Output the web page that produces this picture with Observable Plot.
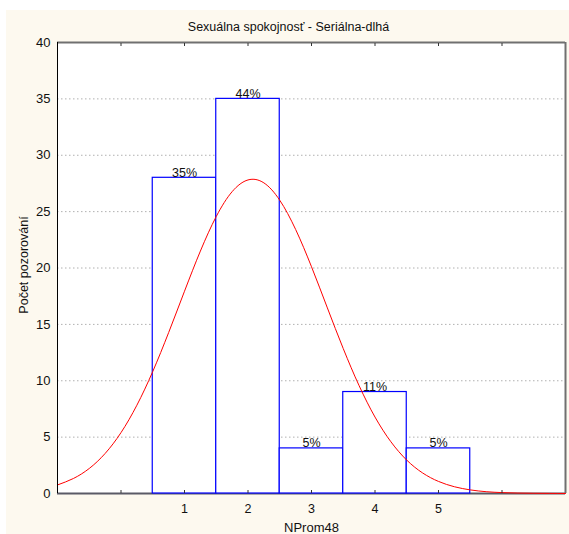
<!DOCTYPE html>
<html>
<head>
<meta charset="utf-8">
<script src="https://cdn.jsdelivr.net/npm/d3@7"></script>
<script src="https://cdn.jsdelivr.net/npm/@observablehq/plot@0.6"></script>
<style>
  html, body { margin: 0; padding: 0; background: #ffffff; }
  #wrap { position: relative; width: 569px; height: 534px; background: #ffffff; }
  #panel { position: absolute; left: 6px; top: 10px; width: 563px; height: 524px; background: #fdf9ef; }
  #chart { position: absolute; left: 0; top: 0; }
</style>
</head>
<body>
<div id="wrap">
  <div id="panel"></div>
  <div id="chart"></div>
</div>
<script>
// ---- data ----
const titleText = "Sexuálna spokojnosť - Seriálna-dlhá";
const xTitle = "NProm48";
const yTitle = "Počet pozorování";

const categories = [1, 2, 3, 4, 5];
const counts = [28, 35, 4, 9, 4];
const pctLabels = ["35%", "44%", "5%", "11%", "5%"];

// fitted normal curve
const curveX = [-1, -0.75, -0.5, -0.25, 0, 0.25, 0.5, 0.75, 1, 1.25, 1.5, 1.75, 2, 2.25, 2.5, 2.75, 3, 3.25, 3.5, 3.75, 4, 4.25, 4.5, 4.75, 5, 5.25, 5.5, 5.75, 6, 6.25, 6.5, 6.75, 7];
const curveY = [0.76, 1.33, 2.22, 3.55, 5.40, 7.83, 10.82, 14.27, 17.94, 21.50, 24.57, 26.77, 27.81, 27.55, 26.01, 23.42, 20.11, 16.46, 12.85, 9.56, 6.78, 4.59, 2.96, 1.82, 1.07, 0.60, 0.32, 0.16, 0.08, 0.04, 0.02, 0.01, 0.0];

const yTicks = [0, 5, 10, 15, 20, 25, 30, 35, 40];
const gridTicks = [5, 10, 15, 20, 25, 30, 35];
const xTickLabels = [1, 2, 3, 4, 5];
const xTickMarks = [0, 1, 2, 3, 4, 5, 6];
const xDomain = [-1, 7];
const yDomain = [0, 40];

// ---- tables ----
const bars = categories.map((c, i) => ({cat: c, count: counts[i], pct: pctLabels[i]}));
const curve = curveX.map((x, i) => ({x, y: curveY[i]}));

const font = "'Liberation Sans', Arial, sans-serif";
const ink = "#111";

const chart = Plot.plot({
  width: 569,
  height: 534,
  marginLeft: 57,
  marginRight: 4,
  marginTop: 42,
  marginBottom: 41,
  style: {background: "transparent", fontFamily: font, fontSize: "12px", color: ink},
  x: {domain: xDomain},
  y: {domain: yDomain},
  marks: [
    Plot.frame({fill: "#ffffff", stroke: "none"}),
    Plot.ruleY(gridTicks, {stroke: "#b0b0b0", strokeDasharray: "1.5,2.5", strokeWidth: 1}),
    Plot.ruleY([0], {stroke: "#5a5a66", strokeWidth: 2}),
    Plot.rectY(bars, {x1: d => d.cat - 0.5, x2: d => d.cat + 0.5, y: "count", fill: "#ffffff", stroke: "#0000ff", strokeWidth: 1.2}),
    Plot.line(curve, {x: "x", y: "y", stroke: "#ff0000", strokeWidth: 1, curve: "natural"}),
    Plot.text(bars, {x: "cat", y: "count", text: "pct", lineAnchor: "bottom", dy: -1, fill: ink, fontSize: 12.5}),
    Plot.ruleY([40], {stroke: "#707070", strokeWidth: 2}),
    Plot.ruleX([7], {stroke: "#707070", strokeWidth: 2}),
    Plot.ruleX([-1], {stroke: "#000000", strokeWidth: 1}),
    Plot.axisY({ticks: yTicks, tickSize: 0, tickPadding: 7, label: null, fontSize: 13, fill: ink}),
    Plot.axisX({ticks: xTickLabels, tickSize: 0, tickPadding: 11, label: null, fontSize: 12.5, fill: ink}),
    Plot.axisX({ticks: xTickMarks, tickSize: -3, tickFormat: () => "", label: null, stroke: "#333"}),
    Plot.axisX({anchor: "top", ticks: xTickMarks, tickSize: -3, tickFormat: () => "", label: null, stroke: "#333"}),
    Plot.text([xTitle], {frameAnchor: "bottom", lineAnchor: "middle", textAnchor: "middle", dy: 34, text: d => d, fontSize: 13, fill: ink}),
    Plot.text([yTitle], {frameAnchor: "left", lineAnchor: "middle", textAnchor: "middle", dx: -34, dy: -3, rotate: -90, text: d => d, fontSize: 12.5, fill: ink}),
    Plot.text([titleText], {frameAnchor: "top", lineAnchor: "middle", textAnchor: "middle", dx: -23, dy: -16, text: d => d, fontSize: 12.5, fill: ink})
  ]
});
document.getElementById("chart").appendChild(chart);
</script>
</body>
</html>
